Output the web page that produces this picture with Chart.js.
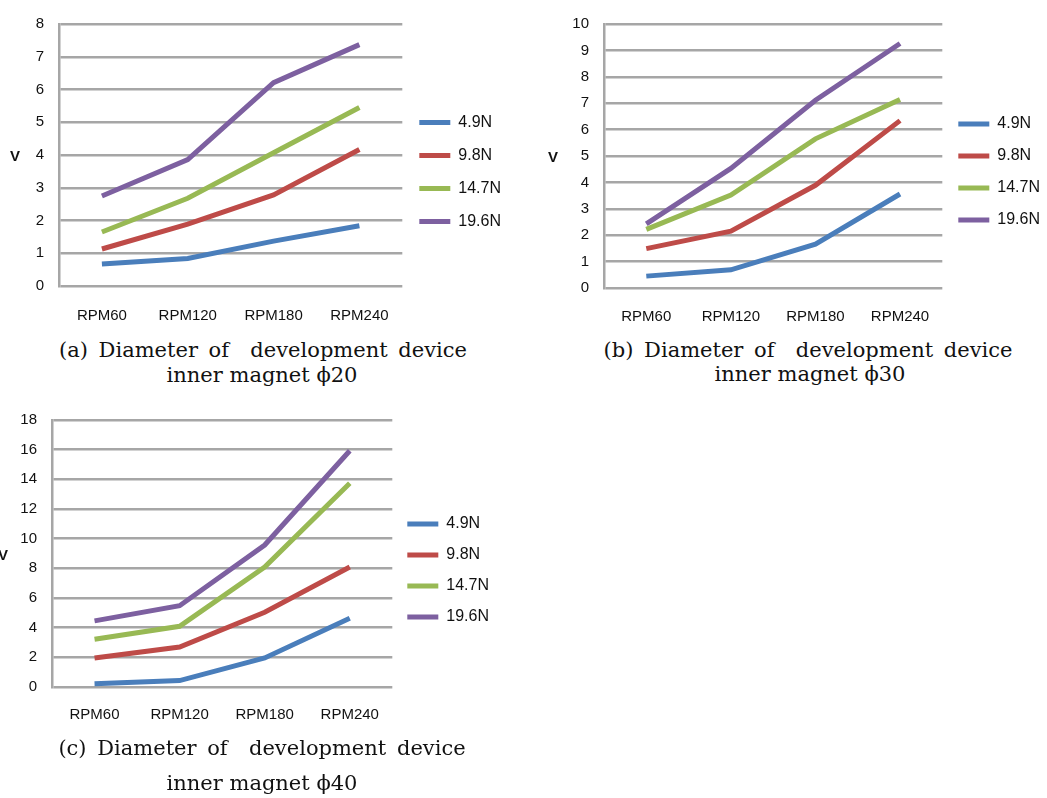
<!DOCTYPE html>
<html>
<head>
<meta charset="utf-8">
<script src="https://cdn.jsdelivr.net/npm/chart.js@4.4.1/dist/chart.umd.min.js"></script>
<style>
  body { margin: 0; background: #fff; width: 1047px; height: 798px; position: relative; overflow: hidden; }
  .box { position: absolute; }
  .cap { position: absolute; font-family: 'DejaVu Serif', serif; font-size: 21px; color: #111; white-space: pre; transform: translate(-50%, -50%); }
  .l1 { word-spacing: 4px; }
</style>
</head>
<body>
<div class="box" style="left:0;top:0;width:511px;height:338px"><canvas id="chartA"></canvas></div>
<div class="box" style="left:540px;top:0;width:510px;height:338px"><canvas id="chartB"></canvas></div>
<div class="box" style="left:0;top:396px;width:510px;height:343px"><canvas id="chartC"></canvas></div>

<div class="cap l1" style="left:263px;top:350px">(a) Diameter of  development device</div>
<div class="cap" style="left:262px;top:375px">inner magnet ϕ20</div>
<div class="cap l1" style="left:808px;top:350px">(b) Diameter of  development device</div>
<div class="cap" style="left:810px;top:374px">inner magnet ϕ30</div>
<div class="cap l1" style="left:262px;top:748px">(c) Diameter of  development device</div>
<div class="cap" style="left:262px;top:783px">inner magnet ϕ40</div>

<script>
const categories = ['RPM60', 'RPM120', 'RPM180', 'RPM240'];
const loads = ['4.9N', '9.8N', '14.7N', '19.6N'];
const colors = ['#4a7ebb', '#be4b48', '#98b954', '#7d60a0'];

// (a) phi 20
const a49 = [0.67, 0.84, 1.37, 1.84];
const a98 = [1.13, 1.89, 2.78, 4.17];
const a147 = [1.65, 2.68, 4.07, 5.45];
const a196 = [2.75, 3.86, 6.21, 7.37];

// (b) phi 30
const b49 = [0.45, 0.69, 1.66, 3.56];
const b98 = [1.49, 2.15, 3.89, 6.34];
const b147 = [2.22, 3.52, 5.65, 7.14];
const b196 = [2.43, 4.53, 7.11, 9.26];

// (c) phi 40
const c49 = [0.22, 0.43, 1.96, 4.63];
const c98 = [1.96, 2.70, 5.04, 8.09];
const c147 = [3.22, 4.09, 8.09, 13.74];
const c196 = [4.46, 5.48, 9.57, 15.93];

const sans = '"Liberation Sans", Arial, sans-serif';

// upright "V" axis title (chart.js rotates its own)
const axisLetter = {
    id: 'axisLetter',
    afterDraw(chart, args, opts) {
        const ctx = chart.ctx;
        const area = chart.chartArea;
        ctx.save();
        ctx.font = 'bold 15px ' + sans;
        ctx.fillStyle = '#111';
        ctx.textAlign = 'center';
        ctx.textBaseline = 'middle';
        ctx.fillText('V', opts.x, (area.top + area.bottom) / 2 + 2);
        ctx.restore();
    }
};

function makeChart(canvasId, series, yMax, yStep, opt) {
    const datasets = series.map((values, i) => ({
        label: loads[i],
        data: values,
        borderColor: colors[i],
        backgroundColor: colors[i],
        borderWidth: 5,
        pointRadius: 0,
        tension: 0
    }));

    return new Chart(document.getElementById(canvasId), {
        type: 'line',
        data: { labels: categories, datasets: datasets },
        plugins: [axisLetter],
        options: {
            responsive: true,
            maintainAspectRatio: false,
            animation: false,
            layout: { padding: { top: 6, right: opt.rightPad, left: 0, bottom: 0 } },
            plugins: {
                tooltip: { enabled: false },
                axisLetter: { x: opt.letterX },
                legend: {
                    position: 'right',
                    labels: {
                        usePointStyle: true,
                        pointStyle: 'line',
                        pointStyleWidth: 31,
                        boxHeight: 16,
                        padding: opt.legendGap,
                        color: '#111',
                        font: { family: sans, size: 16 }
                    }
                }
            },
            scales: {
                x: {
                    offset: true,
                    grid: { display: false, drawTicks: false },
                    border: { display: false },
                    ticks: {
                        color: '#111',
                        padding: opt.xPad,
                        maxRotation: 0,
                        font: { family: sans, size: 15 }
                    },
                    afterFit: (s) => { s.height = opt.xHeight; }
                },
                y: {
                    min: 0,
                    max: yMax,
                    grid: { color: '#a6a6a6', lineWidth: 2.5, drawTicks: false },
                    border: { color: '#a6a6a6', width: 2.5 },
                    ticks: {
                        stepSize: yStep,
                        color: '#111',
                        padding: 15,
                        font: { family: sans, size: 15 }
                    },
                    afterFit: (s) => { s.width = opt.axisWidth; }
                }
            }
        }
    });
}

makeChart('chartA', [a49, a98, a147, a196], 8, 1,
    { axisWidth: 59, letterX: 15, rightPad: 0, legendGap: 17, xHeight: 52, xPad: 21 });
makeChart('chartB', [b49, b98, b147, b196], 10, 1,
    { axisWidth: 64, letterX: 13, rightPad: 0, legendGap: 16, xHeight: 50, xPad: 20 });
makeChart('chartC', [c49, c98, c147, c196], 18, 2,
    { axisWidth: 52, letterX: 3, rightPad: 11, legendGap: 15, xHeight: 52, xPad: 19 });
</script>
</body>
</html>
